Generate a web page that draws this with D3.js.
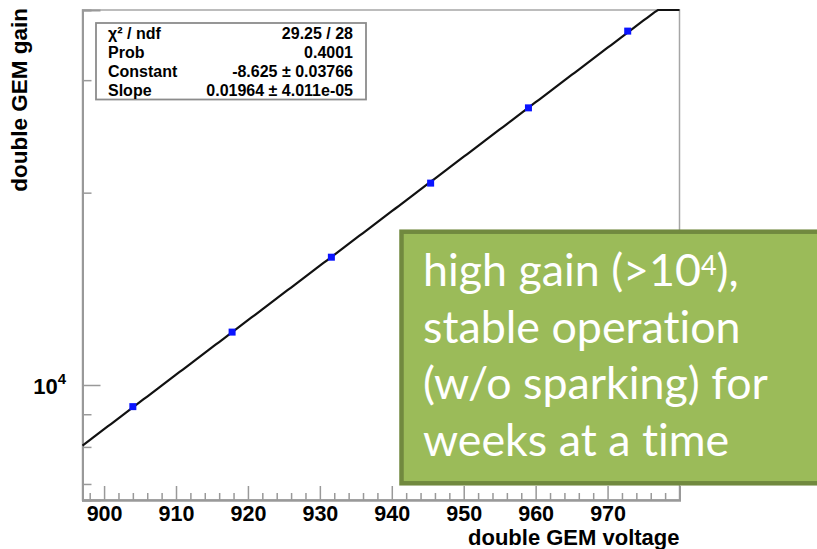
<!DOCTYPE html>
<html>
<head>
<meta charset="utf-8">
<script src="https://cdn.jsdelivr.net/npm/d3@7"></script>
<style>
  html, body { margin: 0; padding: 0; background: #fff; }
  svg { display: block; }
  .root-text { font-family: "Liberation Sans", Arial, Helvetica, sans-serif; font-weight: bold; fill: #000; }
</style>
</head>
<body>
<svg id="chart" width="817" height="549"></svg>
<script>
// Gain scan of a double GEM stack with an exponential fit
const voltage = [904.0, 917.8, 931.6, 945.4, 959.0, 972.8];
const gain    = [9250, 12100, 15850, 20700, 27150, 35800];

// Fit result: gain = exp(Constant + Slope * V)
const fitConstant = -8.625;
const fitSlope = 0.01964;

const xMajorTicks = [900, 910, 920, 930, 940, 950, 960, 970];
const yMinorTicks = [7000, 8000, 9000, 20000, 30000];
const yLabelledTick = 10000;

const statsLabels = ["χ² / ndf", "Prob", "Constant", "Slope"];
const statsValues = ["29.25 / 28", "0.4001", "-8.625 ± 0.03766", "0.01964 ± 4.011e-05"];

const noteLines = [
  [{t: "high gain (>10"}, {t: "4", sup: true}, {t: "),"}],
  [{t: "stable operation"}],
  [{t: "(w/o sparking) for"}],
  [{t: "weeks at a time"}]
];

const svg = d3.select("#chart");
const frame = {left: 82.5, right: 679.5, top: 10, bottom: 500};

const x = d3.scaleLinear().domain([897, 980]).range([frame.left, frame.right]);
const y = d3.scaleLog().domain([6607, 38630]).range([frame.bottom, frame.top]).clamp(true);

// frame
svg.append("rect")
  .attr("x", frame.left).attr("y", frame.top)
  .attr("width", frame.right - frame.left).attr("height", frame.bottom - frame.top)
  .attr("fill", "none").attr("stroke", "#a6a6a6").attr("stroke-width", 1.5);

// x axis: major ticks, minor ticks every 2 V
const xMinor = d3.range(898, 981, 2).filter(v => v % 10 !== 0);
const gxMinor = svg.append("g").attr("transform", `translate(0,${frame.bottom})`)
  .call(d3.axisBottom(x).tickValues(xMinor).tickSize(-7).tickFormat(""));
const gx = svg.append("g").attr("transform", `translate(0,${frame.bottom})`)
  .call(d3.axisBottom(x).tickValues(xMajorTicks).tickSize(-14).tickFormat(d3.format("d")));
[gx, gxMinor].forEach(g => {
  g.select(".domain").attr("stroke", "#999").attr("stroke-width", 2);
  g.selectAll(".tick line").attr("stroke", "#999").attr("stroke-width", 1.5);
});
gx.selectAll(".tick text")
  .attr("class", "root-text").attr("y", 20.5).attr("dy", 0)
  .style("font-size", "21.5px");

// y axis (log)
const gyMinor = svg.append("g").attr("transform", `translate(${frame.left},0)`)
  .call(d3.axisLeft(y).tickValues(yMinorTicks).tickSize(-9).tickFormat(""));
const gy = svg.append("g").attr("transform", `translate(${frame.left},0)`)
  .call(d3.axisLeft(y).tickValues([yLabelledTick]).tickSize(-18).tickFormat(""));
[gy, gyMinor].forEach(g => {
  g.select(".domain").attr("stroke", "#999").attr("stroke-width", 2);
  g.selectAll(".tick line").attr("stroke", "#999").attr("stroke-width", 1.5);
});
const yl = svg.append("text").attr("class", "root-text")
  .attr("x", 66).attr("y", y(yLabelledTick) + 9)
  .attr("text-anchor", "end").style("font-size", "22px");
yl.append("tspan").text("10");
yl.append("tspan").text("4").attr("dy", -10).style("font-size", "15px");

// axis titles
svg.append("text").attr("class", "root-text")
  .attr("x", frame.right).attr("y", 544.5).attr("text-anchor", "end")
  .style("font-size", "22px").text("double GEM voltage");
svg.append("text").attr("class", "root-text")
  .attr("transform", "translate(27,8) rotate(-90)").attr("text-anchor", "end")
  .style("font-size", "22.5px").text("double GEM gain");

// fit curve, clipped to the top of the frame by the clamped scale
const fitV = d3.range(897, 980.01, 0.5);
svg.append("path")
  .datum(fitV)
  .attr("fill", "none").attr("stroke", "#111").attr("stroke-width", 2.2)
  .attr("d", d3.line().x(v => x(v)).y(v => y(Math.exp(fitConstant + fitSlope * v))));

// data points
svg.append("g").selectAll("rect")
  .data(voltage.map((v, i) => ({v, g: gain[i]})))
  .join("rect")
  .attr("x", d => x(d.v) - 3.5).attr("y", d => y(d.g) - 3.5)
  .attr("width", 7).attr("height", 7)
  .attr("fill", "#0a14ff");

// stats box
const stats = svg.append("g");
stats.append("rect")
  .attr("x", 96).attr("y", 23).attr("width", 270).attr("height", 76.5)
  .attr("fill", "#fff").attr("stroke", "#8c8c8c").attr("stroke-width", 1.8);
statsLabels.forEach((lab, i) => {
  stats.append("text").attr("class", "root-text")
    .attr("x", 108).attr("y", 38.5 + i * 19.3).style("font-size", "16px").text(lab);
  stats.append("text").attr("class", "root-text")
    .attr("x", 353).attr("y", 38.5 + i * 19.3).attr("text-anchor", "end")
    .style("font-size", "16px").text(statsValues[i]);
});

// highlighted note box
const note = svg.append("g");
note.append("rect")
  .attr("x", 401.5).attr("y", 231.7).attr("width", 520).attr("height", 251.6)
  .attr("fill", "#9bbb59").attr("stroke", "#71893f").attr("stroke-width", 4.5);
const baseSize = 44;
const noteTexts = noteLines.map((parts, i) => {
  const t = note.append("text")
    .attr("x", 423).attr("y", 286 + i * 56.5)
    .style("font-family", "Lato, 'Open Sans', sans-serif")
    .style("font-variant-ligatures", "none")
    .style("font-size", baseSize + "px").attr("fill", "#fff");
  parts.forEach(p => {
    if (p.sup) {
      t.append("tspan").text(p.t).attr("dy", "-0.42em").style("font-size", "0.6em");
    } else {
      const s = t.append("tspan").text(p.t);
      if (t.selectAll("tspan").size() > 1) s.attr("dy", "0.252em");
    }
  });
  return t;
});
// size the note font so its widest line spans the box interior
const widest = d3.max(noteTexts, t => t.node().getComputedTextLength());
const fitted = baseSize * 345 / widest;
noteTexts.forEach(t => t.style("font-size", fitted + "px"));
</script>
</body>
</html>
